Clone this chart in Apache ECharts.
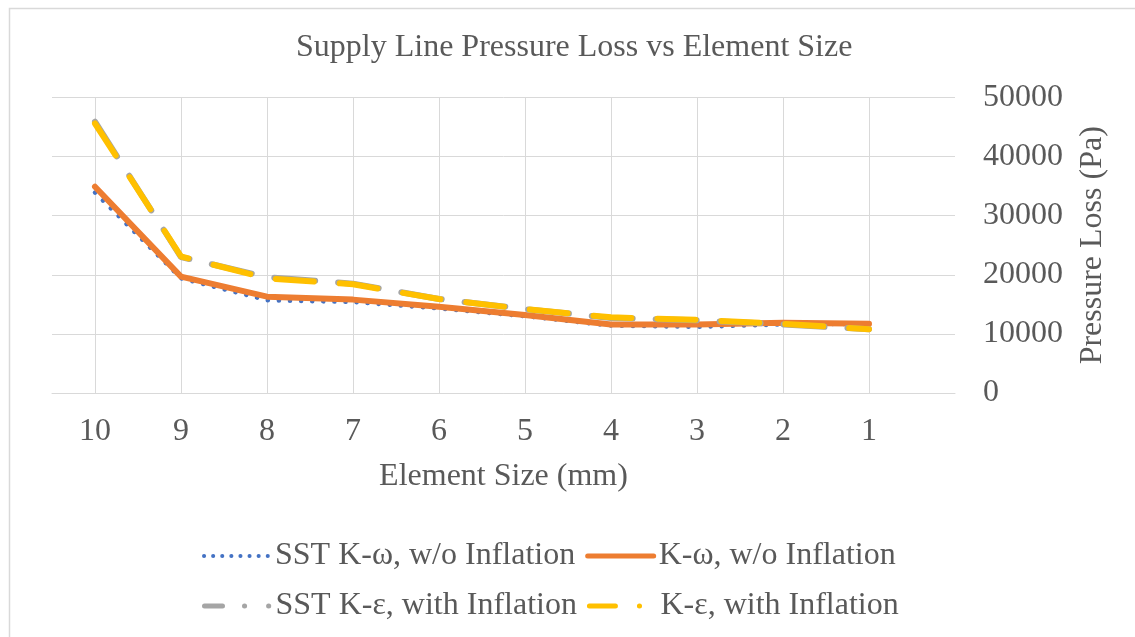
<!DOCTYPE html>
<html>
<head>
<meta charset="utf-8">
<script src="https://cdn.jsdelivr.net/npm/echarts@6/dist/echarts.min.js"></script>
<style>
html,body{margin:0;padding:0;background:#fff;}
#chart{width:1135px;height:637px;}
</style>
</head>
<body>
<div id="chart"></div>
<script>
const elementSizes = [10, 9, 8, 7, 6, 5, 4, 3, 2, 1];
const sstKwNoInflation = [33900, 19400, 15700, 15400, 14300, 13000, 11400, 11200, 11600, 11700];
const kwNoInflation = [34900, 19700, 16300, 15800, 14600, 13200, 11600, 11600, 11900, 11700];
const sstKeInflation = [45900, 23000, 19600, 18500, 15900, 14200, 12700, 12300, 11600, 10800];
const keInflation = [45600, 23100, 19400, 18400, 15900, 14200, 12800, 12400, 11700, 10800];
const yTicks = [0, 10000, 20000, 30000, 40000, 50000];
const seriesNames = ['SST K-ω, w/o Inflation', 'K-ω, w/o Inflation', 'SST K-ε, with Inflation', 'K-ε, with Inflation'];

const FONT = 'Liberation Serif';
const TXT = '#595959';
const GRID = '#d9d9d9';
const C_BLUE = '#4472c4', C_ORANGE = '#ed7d31', C_GRAY = '#a5a5a5', C_YELLOW = '#ffc000';

function pairs(vals) { return elementSizes.map((s, i) => [s, vals[i]]); }

const legendCommon = {
  left: 197, itemWidth: 66, itemHeight: 14, itemGap: 10,
  itemStyle: {opacity: 0},
  textStyle: {fontFamily: FONT, fontSize: 32, color: TXT}
};

const chart = echarts.init(document.getElementById('chart'), null, {renderer: 'canvas'});
chart.setOption({
  backgroundColor: '#ffffff',
  animation: false,
  graphic: [{
    type: 'rect', left: 7, top: 6, silent: true,
    shape: {width: 1140, height: 640},
    style: {fill: 'none', stroke: GRID, lineWidth: 1.5}
  }],
  title: {
    text: 'Supply Line Pressure Loss vs Element Size',
    left: 291, top: 27,
    textStyle: {fontFamily: FONT, fontSize: 32, fontWeight: 'normal', color: TXT}
  },
  grid: {left: 52, right: 180, top: 97.5, bottom: 244, containLabel: false},
  xAxis: {
    type: 'value', inverse: true, min: 0, max: 10.5, interval: 1,
    name: 'Element Size (mm)', nameLocation: 'middle', nameGap: 68,
    nameTextStyle: {fontFamily: FONT, fontSize: 32, color: TXT},
    axisLine: {show: true, onZero: false, lineStyle: {color: GRID, width: 1}},
    axisTick: {show: false},
    axisLabel: {fontFamily: FONT, fontSize: 32, color: TXT, margin: 23,
      showMinLabel: false, showMaxLabel: false},
    splitLine: {show: true, showMinLine: false, showMaxLine: false, lineStyle: {color: GRID, width: 1}}
  },
  yAxis: {
    type: 'value', position: 'right', min: yTicks[0], max: yTicks[yTicks.length - 1], interval: yTicks[1] - yTicks[0],
    name: 'Pressure Loss (Pa)', nameLocation: 'middle', nameGap: 122, nameRotate: 90,
    nameTextStyle: {fontFamily: FONT, fontSize: 32, color: TXT},
    axisLine: {show: false}, axisTick: {show: false},
    axisLabel: {fontFamily: FONT, fontSize: 32, color: TXT, margin: 28,
      formatter: v => String(v)},
    splitLine: {show: true, lineStyle: {color: GRID, width: 1}}
  },
  legend: [Object.assign({}, legendCommon, {
    top: 535,
    data: [
      {name: seriesNames[0], lineStyle: {color: C_BLUE, width: 4, type: [0.1, 9], cap: 'round'}},
      {name: seriesNames[1], lineStyle: {color: C_ORANGE, width: 5, type: 'solid', cap: 'round'}}
    ]
  }), Object.assign({}, legendCommon, {
    top: 585,
    data: [
      {name: seriesNames[2], lineStyle: {color: C_GRAY, width: 5, type: [18, 22, 0.1, 24, 0.1, 20], cap: 'round'}},
      {name: seriesNames[3], lineStyle: {color: C_YELLOW, width: 5, type: [26, 24, 0.1, 30], cap: 'round'}}
    ]
  })],
  series: [{
    name: seriesNames[0], type: 'line', data: pairs(sstKwNoInflation),
    symbol: 'none', color: C_BLUE,
    lineStyle: {color: C_BLUE, width: 4.5, type: [0.1, 11], cap: 'round'}
  }, {
    name: seriesNames[1], type: 'line', data: pairs(kwNoInflation),
    symbol: 'none', color: C_ORANGE,
    lineStyle: {color: C_ORANGE, width: 6, type: 'solid', cap: 'round', join: 'round'}
  }, {
    name: seriesNames[2], type: 'line', data: pairs(sstKeInflation),
    symbol: 'none', color: C_GRAY,
    lineStyle: {color: C_GRAY, width: 6, type: [41, 23], cap: 'round'}
  }, {
    name: seriesNames[3], type: 'line', data: pairs(keInflation),
    symbol: 'none', color: C_YELLOW,
    lineStyle: {color: C_YELLOW, width: 6, type: [38, 26], cap: 'round'}
  }]
});
</script>
</body>
</html>
